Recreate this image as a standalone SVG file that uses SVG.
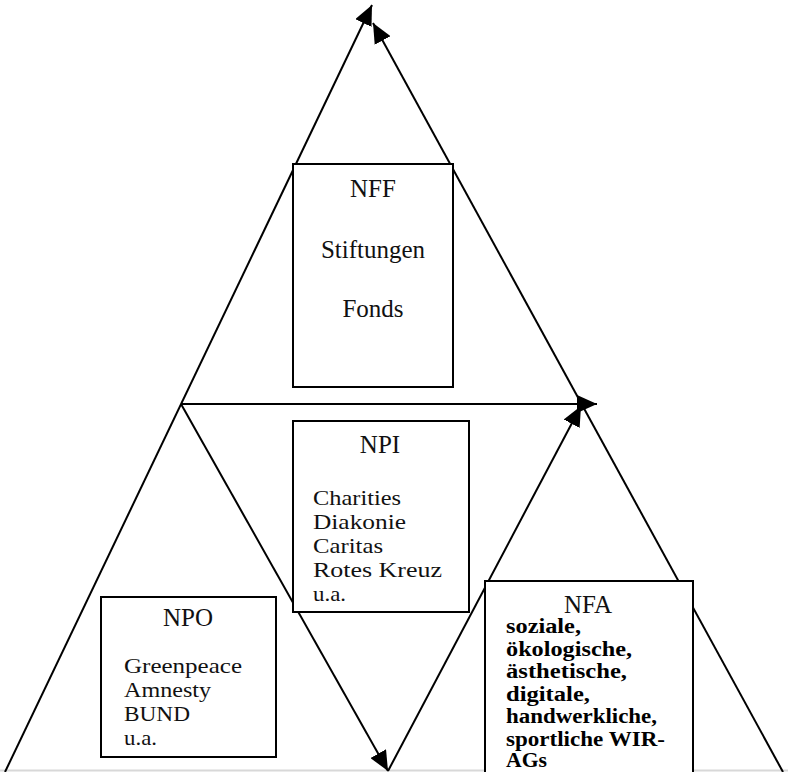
<svg xmlns="http://www.w3.org/2000/svg" width="788" height="772" viewBox="0 0 788 772">
<style>
.ln{stroke:#000;stroke-width:2;fill:none}
.box{fill:#fff;stroke:#000;stroke-width:2}
.t{font-family:"Liberation Serif","Times New Roman",serif;font-size:25px;fill:#111}
.s{font-family:"Liberation Serif","Times New Roman",serif;font-size:21.5px;fill:#111}
.c{text-anchor:middle}
.b{font-family:"Liberation Serif","Times New Roman",serif;font-size:20px;font-weight:bold;fill:#000}
</style>
<defs>
<marker id="ah" markerUnits="userSpaceOnUse" markerWidth="22" markerHeight="18" refX="20" refY="9" orient="auto">
<path d="M0,0 L20,9 L0,18 z" fill="#000"/>
</marker>
</defs>
<rect x="0" y="0" width="788" height="772" fill="#fff"/>
<line x1="0" y1="770.5" x2="788" y2="770.5" stroke="#d8d8d8" stroke-width="2"/>
<g id="connectors">
<line class="ln" x1="5" y1="772" x2="372" y2="5" marker-end="url(#ah)"/>
<line class="ln" x1="783" y1="772" x2="373" y2="23" marker-end="url(#ah)"/>
<line class="ln" x1="181" y1="404" x2="597" y2="404" marker-end="url(#ah)"/>
<line class="ln" x1="181" y1="404" x2="388" y2="771" marker-end="url(#ah)"/>
<line class="ln" x1="388" y1="771" x2="581" y2="406" marker-end="url(#ah)"/>
</g>
<g id="NFF">
<rect class="box" x="293" y="164" width="160" height="223"/>
<text class="t c" x="373" y="197">NFF</text>
<text class="t c" x="373" y="258">Stiftungen</text>
<text class="t c" x="373" y="317">Fonds</text>
</g>
<g id="NPI">
<rect class="box" x="293" y="421" width="176" height="191"/>
<text class="t c" x="380" y="453">NPI</text>
<text class="s" x="313" y="505" textLength="88" lengthAdjust="spacingAndGlyphs">Charities</text>
<text class="s" x="313" y="529" textLength="93" lengthAdjust="spacingAndGlyphs">Diakonie</text>
<text class="s" x="313" y="553" textLength="70" lengthAdjust="spacingAndGlyphs">Caritas</text>
<text class="s" x="313" y="577" textLength="129" lengthAdjust="spacingAndGlyphs">Rotes Kreuz</text>
<text class="s" x="313" y="601" textLength="33" lengthAdjust="spacingAndGlyphs">u.a.</text>
</g>
<g id="NPO">
<rect class="box" x="101" y="597" width="175" height="160"/>
<text class="t c" x="188" y="626">NPO</text>
<text class="s" x="124" y="673" textLength="118" lengthAdjust="spacingAndGlyphs">Greenpeace</text>
<text class="s" x="124" y="697" textLength="87" lengthAdjust="spacingAndGlyphs">Amnesty</text>
<text class="s" x="124" y="721" textLength="66" lengthAdjust="spacingAndGlyphs">BUND</text>
<text class="s" x="124" y="745" textLength="33" lengthAdjust="spacingAndGlyphs">u.a.</text>
</g>
<g id="NFA">
<rect class="box" x="485" y="581" width="208" height="200"/>
<text class="t c" x="588" y="613">NFA</text>
<text class="b" x="506" y="633" textLength="75" lengthAdjust="spacingAndGlyphs">soziale,</text>
<text class="b" x="506" y="655.5" textLength="126" lengthAdjust="spacingAndGlyphs">ökologische,</text>
<text class="b" x="506" y="678" textLength="121" lengthAdjust="spacingAndGlyphs">ästhetische,</text>
<text class="b" x="506" y="700.5" textLength="84" lengthAdjust="spacingAndGlyphs">digitale,</text>
<text class="b" x="506" y="723" textLength="151" lengthAdjust="spacingAndGlyphs">handwerkliche,</text>
<text class="b" x="506" y="745.5" textLength="159" lengthAdjust="spacingAndGlyphs">sportliche WIR-</text>
<text class="b" x="506" y="767" textLength="41" lengthAdjust="spacingAndGlyphs">AGs</text>
</g>
</svg>
